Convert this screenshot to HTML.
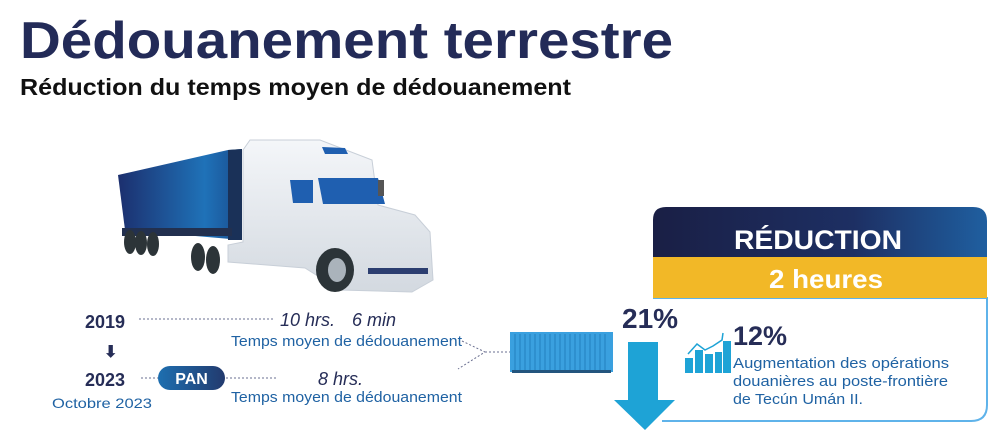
<!DOCTYPE html>
<html><head><meta charset="utf-8"><style>
html,body{margin:0;padding:0;background:#fff;}
svg{display:block;font-family:"Liberation Sans",sans-serif;}
</style></head><body>
<svg width="1000" height="439" viewBox="0 0 1000 439" xmlns="http://www.w3.org/2000/svg">
<defs>
<linearGradient id="tr" x1="0" x2="1" y1="0" y2="0"><stop offset="0" stop-color="#1c2f6e"/><stop offset="0.7" stop-color="#1f72b8"/><stop offset="1" stop-color="#1a4d8f"/></linearGradient>
<linearGradient id="hd" x1="0" x2="1"><stop offset="0" stop-color="#1a1f45"/><stop offset="0.6" stop-color="#1d2f63"/><stop offset="1" stop-color="#1f5fa0"/></linearGradient>
<linearGradient id="pan" x1="0" x2="1"><stop offset="0" stop-color="#1e6fb0"/><stop offset="1" stop-color="#223a6e"/></linearGradient>
<linearGradient id="cab" x1="0" y1="0" x2="0" y2="1"><stop offset="0" stop-color="#f4f6f9"/><stop offset="1" stop-color="#d3d9e0"/></linearGradient>
</defs>

<text x="20" y="58" font-size="52" font-weight="bold" fill="#232b58" textLength="653" lengthAdjust="spacingAndGlyphs">Dédouanement terrestre</text>
<text x="20" y="95" font-size="23" font-weight="bold" fill="#111" textLength="551" lengthAdjust="spacingAndGlyphs">Réduction du temps moyen de dédouanement</text>

<!-- truck -->
<polygon points="118,175 228,150 242,149 242,240 125,230" fill="url(#tr)"/>
<polygon points="228,150 242,149 242,240 228,240" fill="#1a3158"/>
<rect x="122" y="228" width="110" height="8" fill="#22304f"/>
<g fill="#2c3438"><ellipse cx="130" cy="242" rx="6" ry="12"/><ellipse cx="141" cy="243" rx="6" ry="12"/><ellipse cx="153" cy="244" rx="6" ry="12"/><ellipse cx="198" cy="257" rx="7" ry="14"/><ellipse cx="213" cy="260" rx="7" ry="14"/></g>
<polygon points="243,150 250,140 320,140 372,160 378,205 415,215 430,232 433,280 412,292 340,290 305,268 228,262 228,245 243,242" fill="url(#cab)" stroke="#c8cfd8" stroke-width="1"/>
<polygon points="318,178 378,178 385,204 323,204" fill="#1f5fb0"/>
<polygon points="290,180 313,180 313,203 293,203" fill="#1f5fb0"/>
<polygon points="322,147 345,148 348,154 325,154" fill="#1f5fb0"/>
<rect x="378" y="180" width="6" height="16" fill="#555"/>
<rect x="368" y="268" width="60" height="6" fill="#2c3e70"/>
<ellipse cx="335" cy="270" rx="19" ry="22" fill="#2c3438"/>
<ellipse cx="337" cy="270" rx="9" ry="12" fill="#aab3bb"/>

<!-- timeline -->
<text x="85" y="328" font-size="18" font-weight="bold" fill="#262d57">2019</text>
<line x1="139" y1="319" x2="273" y2="319" stroke="#6a6f90" stroke-dasharray="2,2"/>
<text x="280" y="326" font-size="18" font-style="italic" fill="#262d57">10 hrs.</text>
<text x="352" y="326" font-size="18" font-style="italic" fill="#262d57">6 min</text>
<text x="231" y="346" font-size="14.5" fill="#1f62a3" textLength="231" lengthAdjust="spacingAndGlyphs">Temps moyen de dédouanement</text>
<text x="104" y="357" font-size="16" font-weight="bold" fill="#262d57">⬇</text>
<text x="85" y="386" font-size="18" font-weight="bold" fill="#262d57">2023</text>
<line x1="141" y1="378" x2="158" y2="378" stroke="#6a6f90" stroke-dasharray="2,2"/>
<rect x="158" y="366" width="67" height="24" rx="12" fill="url(#pan)"/>
<text x="191.5" y="384" font-size="16" font-weight="bold" fill="#fff" text-anchor="middle">PAN</text>
<line x1="226" y1="378" x2="276" y2="378" stroke="#6a6f90" stroke-dasharray="2,2"/>
<text x="318" y="385" font-size="18" font-style="italic" fill="#262d57">8 hrs.</text>
<text x="231" y="402" font-size="14.5" fill="#1f62a3" textLength="231" lengthAdjust="spacingAndGlyphs">Temps moyen de dédouanement</text>
<text x="52" y="408" font-size="14" fill="#1f62a3" textLength="100" lengthAdjust="spacingAndGlyphs">Octobre 2023</text>
<polyline points="462,341 485,352 458,369" fill="none" stroke="#6a6f90" stroke-dasharray="2,2"/>
<line x1="485" y1="352" x2="510" y2="352" stroke="#6a6f90" stroke-dasharray="2,2"/>

<!-- container -->
<rect x="510" y="332" width="103" height="40" fill="#3aa0df"/>
<g stroke="#2685c4" stroke-width="1.2">
<line x1="515" y1="334" x2="515" y2="370"/><line x1="520" y1="334" x2="520" y2="370"/><line x1="525" y1="334" x2="525" y2="370"/><line x1="530" y1="334" x2="530" y2="370"/><line x1="535" y1="334" x2="535" y2="370"/><line x1="540" y1="334" x2="540" y2="370"/><line x1="545" y1="334" x2="545" y2="370"/><line x1="550" y1="334" x2="550" y2="370"/><line x1="555" y1="334" x2="555" y2="370"/><line x1="560" y1="334" x2="560" y2="370"/><line x1="565" y1="334" x2="565" y2="370"/><line x1="570" y1="334" x2="570" y2="370"/><line x1="575" y1="334" x2="575" y2="370"/><line x1="580" y1="334" x2="580" y2="370"/><line x1="585" y1="334" x2="585" y2="370"/><line x1="590" y1="334" x2="590" y2="370"/><line x1="595" y1="334" x2="595" y2="370"/><line x1="600" y1="334" x2="600" y2="370"/><line x1="605" y1="334" x2="605" y2="370"/></g>
<rect x="512" y="370" width="99" height="3" fill="#23557e"/>

<!-- box -->
<path d="M653,298 L987,298 L987,405 Q987,421 971,421 L662,421" fill="#fff" stroke="#5fb3ea" stroke-width="2"/>
<path d="M653,298 L653,220 Q653,207 666,207 L973,207 Q987,207 987,221 L987,257 L653,257 Z" fill="url(#hd)"/>
<rect x="653" y="257" width="334" height="41" fill="#f2b827"/>
<text x="818" y="249" font-size="27" font-weight="bold" fill="#fff" text-anchor="middle" textLength="168" lengthAdjust="spacingAndGlyphs">RÉDUCTION</text>
<text x="826" y="288" font-size="26" font-weight="bold" fill="#fff" text-anchor="middle" textLength="114" lengthAdjust="spacingAndGlyphs">2 heures</text>

<!-- arrow -->
<text x="622" y="328" font-size="28" font-weight="bold" fill="#262d57">21%</text>
<polygon points="628,342 658,342 658,400 675,400 645,430 614,400 628,400" fill="#1ea3d6"/>

<!-- 12% -->
<g fill="#1ea3d6"><rect x="685" y="358" width="8" height="15"/><rect x="695" y="350" width="8" height="23"/><rect x="705" y="354" width="8" height="19"/><rect x="715" y="352" width="7" height="21"/><rect x="723" y="341" width="8" height="32"/></g>
<polyline points="688,354 697,344 705,350 713,346 722,340 723,333" fill="none" stroke="#1ea3d6" stroke-width="1.5"/>
<text x="733" y="345" font-size="27" font-weight="bold" fill="#262d57">12%</text>
<text x="733" y="368" font-size="15" fill="#1f62a3" textLength="216" lengthAdjust="spacingAndGlyphs">Augmentation des opérations</text>
<text x="733" y="386" font-size="15" fill="#1f62a3" textLength="215" lengthAdjust="spacingAndGlyphs">douanières au poste-frontière</text>
<text x="733" y="404" font-size="15" fill="#1f62a3" textLength="130" lengthAdjust="spacingAndGlyphs">de Tecún Umán II.</text>
</svg>
</body></html>
